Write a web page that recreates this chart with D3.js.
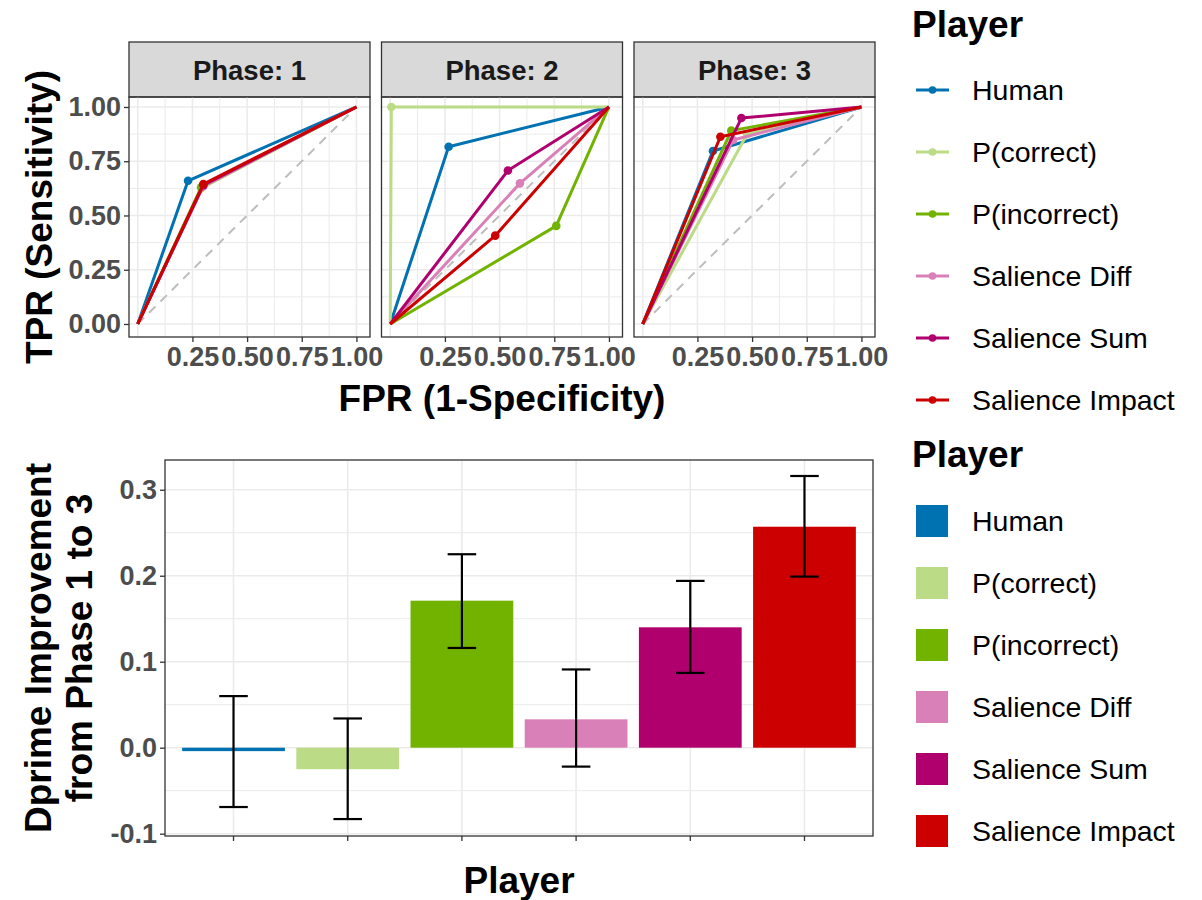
<!DOCTYPE html>
<html>
<head>
<meta charset="utf-8">
<script src="https://cdn.jsdelivr.net/npm/d3@7"></script>
<style>
  html, body { margin: 0; padding: 0; background: #fff; }
  svg { display: block; font-family: "Liberation Sans", Arial, Helvetica, sans-serif; }
</style>
</head>
<body>
<svg id="chart" width="1202" height="900"></svg>
<script>
// ---------- data ----------
const players = ["Human", "P(correct)", "P(incorrect)", "Salience Diff", "Salience Sum", "Salience Impact"];
const playerColors = ["#0072B2", "#BCDB86", "#72B300", "#DA80B8", "#B0006E", "#CC0000"];
const phases = ["Phase: 1", "Phase: 2", "Phase: 3"];

// operating point (FPR, TPR) of each player in each phase, same order as players
const fprPhase1 = [0.23, 0.29, 0.29, 0.30, 0.30, 0.30];
const tprPhase1 = [0.66, 0.625, 0.63, 0.635, 0.64, 0.645];
const fprPhase2 = [0.267, 0.005, 0.759, 0.593, 0.538, 0.48];
const tprPhase2 = [0.817, 1.0, 0.452, 0.648, 0.707, 0.407];
const fprPhase3 = [0.321, 0.477, 0.405, 0.413, 0.451, 0.355];
const tprPhase3 = [0.797, 0.874, 0.891, 0.848, 0.949, 0.863];

const rocTicks = [0, 0.25, 0.5, 0.75, 1];
const rocXTicks = [0.25, 0.5, 0.75, 1];

// d-prime change from phase 1 to phase 3, with interval bounds
const dprimeChange = [-0.004, -0.025, 0.171, 0.033, 0.140, 0.257];
const dprimeLow = [-0.069, -0.083, 0.116, -0.022, 0.087, 0.199];
const dprimeHigh = [0.060, 0.034, 0.225, 0.091, 0.194, 0.316];
const barTicks = [-0.1, 0, 0.1, 0.2, 0.3];

// ---------- helpers ----------
const svg = d3.select("#chart");
const FONT = '"Liberation Sans", Arial, Helvetica, sans-serif';
const TICK_SIZE = 27, TITLE_SIZE = 37, LEGEND_SIZE = 28.5, STRIP_SIZE = 27.5;

function label(g, x, y, str, o = {}) {
  return g.append("text")
    .attr("transform", `translate(${x},${y})` + (o.rotate ? ` rotate(${o.rotate})` : ""))
    .attr("text-anchor", o.anchor || "start")
    .attr("font-family", FONT)
    .attr("font-size", o.size || 20)
    .attr("font-weight", o.weight || "normal")
    .attr("fill", o.fill || "#000")
    .text(str);
}

function styleAxis(ax) {
  ax.select(".domain").remove();
  ax.selectAll(".tick line").attr("stroke", "#333").attr("stroke-width", 1.3);
  ax.selectAll(".tick text")
    .attr("font-family", FONT)
    .attr("font-size", TICK_SIZE)
    .attr("font-weight", "bold")
    .attr("fill", "#4D4D4D");
}

// ---------- ROC facets ----------
const rocPanels = [
  { x0: 129, x1: 370, fpr: fprPhase1, tpr: tprPhase1 },
  { x0: 381.5, x1: 622.5, fpr: fprPhase2, tpr: tprPhase2 },
  { x0: 634, x1: 875, fpr: fprPhase3, tpr: tprPhase3 }
];
const rocTop = 97, rocBottom = 337, stripTop = 42;
const yRoc = d3.scaleLinear().domain([-0.06, 1.046]).range([rocBottom, rocTop]);

rocPanels.forEach((p, i) => {
  const x = d3.scaleLinear().domain([-0.04, 1.062]).range([p.x0, p.x1]);
  const g = svg.append("g");

  // strip
  g.append("rect").attr("x", p.x0).attr("y", stripTop).attr("width", p.x1 - p.x0).attr("height", rocTop - stripTop)
    .attr("fill", "#D9D9D9").attr("stroke", "#333").attr("stroke-width", 1.3);
  label(g, (p.x0 + p.x1) / 2, 80, phases[i], { anchor: "middle", size: STRIP_SIZE, weight: "bold", fill: "#1A1A1A" });

  // grid
  const gridVals = d3.range(0, 1.0001, 0.125);
  g.selectAll(".vg").data(gridVals).join("line")
    .attr("x1", d => x(d)).attr("x2", d => x(d)).attr("y1", rocTop).attr("y2", rocBottom)
    .attr("stroke", "#EBEBEB").attr("stroke-width", d => (d * 4) % 1 === 0 ? 1.6 : 1);
  g.selectAll(".hg").data(gridVals).join("line")
    .attr("y1", d => yRoc(d)).attr("y2", d => yRoc(d)).attr("x1", p.x0).attr("x2", p.x1)
    .attr("stroke", "#EBEBEB").attr("stroke-width", d => (d * 4) % 1 === 0 ? 1.6 : 1);

  // chance diagonal
  g.append("line").attr("x1", x(0)).attr("y1", yRoc(0)).attr("x2", x(1)).attr("y2", yRoc(1))
    .attr("stroke", "#BDBDBD").attr("stroke-width", 2).attr("stroke-dasharray", "9,7");

  // curves: (0,0) -> operating point -> (1,1); a dot marks the operating point
  const line = d3.line().x(d => x(d[0])).y(d => yRoc(d[1]));
  players.forEach((name, k) => {
    const pts = [[0, 0], [p.fpr[k], p.tpr[k]], [1, 1]];
    g.append("path").attr("d", line(pts)).attr("fill", "none")
      .attr("stroke", playerColors[k]).attr("stroke-width", 3).attr("stroke-linejoin", "round");
    g.append("circle")
      .attr("cx", x(p.fpr[k])).attr("cy", yRoc(p.tpr[k])).attr("r", 4.3)
      .attr("fill", playerColors[k]);
  });

  // border
  g.append("rect").attr("x", p.x0).attr("y", rocTop).attr("width", p.x1 - p.x0).attr("height", rocBottom - rocTop)
    .attr("fill", "none").attr("stroke", "#333").attr("stroke-width", 1.3);

  // x axis
  const ax = g.append("g").attr("transform", `translate(0,${rocBottom})`)
    .call(d3.axisBottom(x).tickValues(rocXTicks).tickFormat(d3.format(".2f")).tickSize(5).tickPadding(5));
  styleAxis(ax);

  if (i === 0) {
    const ay = g.append("g").attr("transform", `translate(${p.x0},0)`)
      .call(d3.axisLeft(yRoc).tickValues(rocTicks).tickFormat(d3.format(".2f")).tickSize(5).tickPadding(3));
    styleAxis(ay);
  }
});

label(svg, 52, (rocTop + rocBottom) / 2, "TPR (Sensitivity)", { anchor: "middle", size: TITLE_SIZE, weight: "bold", rotate: -90 });
label(svg, 502, 411, "FPR (1-Specificity)", { anchor: "middle", size: TITLE_SIZE, weight: "bold" });

// ---------- d-prime bars ----------
const barLeft = 165, barRight = 873, barTop = 460, barBottom = 836;
const xBar = d3.scaleBand().domain(players).range([barLeft, barRight]).paddingInner(0.1).paddingOuter(0.15);
const yBar = d3.scaleLinear().domain([-0.1027, 0.3346]).range([barBottom, barTop]);
const gb = svg.append("g");

// grid
const minorY = [-0.05, 0.05, 0.15, 0.25];
gb.selectAll(".mg").data(minorY).join("line")
  .attr("x1", barLeft).attr("x2", barRight).attr("y1", d => yBar(d)).attr("y2", d => yBar(d))
  .attr("stroke", "#EBEBEB").attr("stroke-width", 1);
gb.selectAll(".hg").data(barTicks).join("line")
  .attr("x1", barLeft).attr("x2", barRight).attr("y1", d => yBar(d)).attr("y2", d => yBar(d))
  .attr("stroke", "#EBEBEB").attr("stroke-width", 1.6);
gb.selectAll(".vg").data(players).join("line")
  .attr("x1", d => xBar(d) + xBar.bandwidth() / 2).attr("x2", d => xBar(d) + xBar.bandwidth() / 2)
  .attr("y1", barTop).attr("y2", barBottom)
  .attr("stroke", "#EBEBEB").attr("stroke-width", 1.6);

// bars
gb.selectAll(".bar").data(players).join("rect")
  .attr("x", d => xBar(d))
  .attr("width", xBar.bandwidth())
  .attr("y", (d, k) => Math.min(yBar(0), yBar(dprimeChange[k])))
  .attr("height", (d, k) => Math.abs(yBar(dprimeChange[k]) - yBar(0)))
  .attr("fill", (d, k) => playerColors[k]);

// interval whiskers
const capHalf = xBar.step() * 0.125;
players.forEach((d, k) => {
  const cx = xBar(d) + xBar.bandwidth() / 2;
  const e = gb.append("g").attr("stroke", "#000").attr("stroke-width", 2.2);
  e.append("line").attr("x1", cx).attr("x2", cx).attr("y1", yBar(dprimeLow[k])).attr("y2", yBar(dprimeHigh[k]));
  e.append("line").attr("x1", cx - capHalf).attr("x2", cx + capHalf).attr("y1", yBar(dprimeLow[k])).attr("y2", yBar(dprimeLow[k]));
  e.append("line").attr("x1", cx - capHalf).attr("x2", cx + capHalf).attr("y1", yBar(dprimeHigh[k])).attr("y2", yBar(dprimeHigh[k]));
});

gb.append("rect").attr("x", barLeft).attr("y", barTop).attr("width", barRight - barLeft).attr("height", barBottom - barTop)
  .attr("fill", "none").attr("stroke", "#333").attr("stroke-width", 1.3);

const axb = gb.append("g").attr("transform", `translate(0,${barBottom})`)
  .call(d3.axisBottom(xBar).tickFormat("").tickSize(5));
styleAxis(axb);
const ayb = gb.append("g").attr("transform", `translate(${barLeft},0)`)
  .call(d3.axisLeft(yBar).tickValues(barTicks).tickFormat(d3.format(".1f")).tickSize(5).tickPadding(3));
styleAxis(ayb);
ayb.selectAll(".tick text").text(d => d < 0 ? "-" + d3.format(".1f")(-d) : d3.format(".1f")(d));

label(svg, 51, (barTop + barBottom) / 2, "Dprime Improvement", { anchor: "middle", size: TITLE_SIZE, weight: "bold", rotate: -90 });
label(svg, 92, (barTop + barBottom) / 2, "from Phase 1 to 3", { anchor: "middle", size: TITLE_SIZE, weight: "bold", rotate: -90 });
label(svg, 519, 893, "Player", { anchor: "middle", size: TITLE_SIZE, weight: "bold" });

// ---------- legends ----------
const legendGap = 62;
const lg1 = svg.append("g");
label(lg1, 912, 37, "Player", { size: TITLE_SIZE, weight: "bold" });
players.forEach((name, k) => {
  const cy = 90 + k * legendGap;
  lg1.append("line").attr("x1", 916).attr("x2", 949).attr("y1", cy).attr("y2", cy)
    .attr("stroke", playerColors[k]).attr("stroke-width", 2.8);
  lg1.append("circle").attr("cx", 932.5).attr("cy", cy).attr("r", 3.8).attr("fill", playerColors[k]);
  label(lg1, 972, cy + 10, name, { size: LEGEND_SIZE });
});

const lg2 = svg.append("g");
label(lg2, 912, 467, "Player", { size: TITLE_SIZE, weight: "bold" });
players.forEach((name, k) => {
  const cy = 521 + k * legendGap;
  lg2.append("rect").attr("x", 916).attr("y", cy - 16).attr("width", 32).attr("height", 32)
    .attr("fill", playerColors[k]);
  label(lg2, 972, cy + 10, name, { size: LEGEND_SIZE });
});
</script>
</body>
</html>
